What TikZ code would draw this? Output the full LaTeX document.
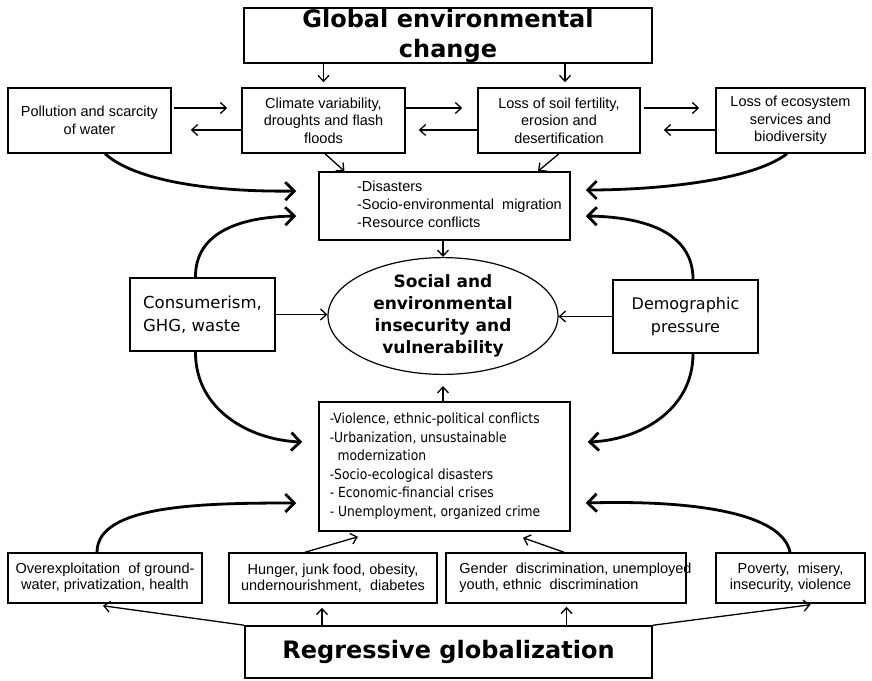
\documentclass[tikz,border=0pt]{standalone}
\usepackage{fontspec}
\setmainfont{Liberation Sans}
\newfontfamily\dv{DejaVu Sans}
\newfontfamily\dvc[FakeStretch=0.88]{DejaVu Sans}
\usetikzlibrary{arrows.meta,shapes.geometric}
\tikzset{
  box/.style={draw, line width=1.5pt, inner sep=0pt, align=center,
    font=\fontsize{14.5}{17.5}\selectfont},
  thinarr/.style={line width=1.3pt, -{Straight Barb[length=6pt,width=11pt]}},
  thickarr/.style={line width=2.8pt, -{Straight Barb[length=9pt,width=18pt]}},
  titlefont/.style={font=\dv\bfseries\fontsize{24}{30}\selectfont},
}
\begin{document}
\begin{tikzpicture}[x=1pt,y=-1pt]
\useasboundingbox (0,0) rectangle (872,680);
% top
\node[box, titlefont, minimum width=408pt, minimum height=55pt] (gec) at (448,35.5) {Global environmental\\change};
\node[box, minimum width=163pt, minimum height=65pt] (poll) at (89.5,120.5) {Pollution and scarcity\\of water};
\node[box, minimum width=163pt, minimum height=65pt] (clim) at (323.5,120.5) {Climate variability,\\droughts and flash\\floods};
\node[box, minimum width=162pt, minimum height=65pt] (soil) at (559,120.5) {Loss of soil fertility,\\erosion and\\desertification};
\node[box, minimum width=149pt, minimum height=65pt] (eco) at (790.5,120.5) {Loss of ecosystem\\services and\\biodiversity};
\node[box, minimum width=251pt, minimum height=68pt, font=\fontsize{14.5}{18}\selectfont] (dis) at (444.5,206)
  {\hspace*{30pt}\begin{tabular}{@{}l@{}}-Disasters\\-Socio-environmental\ \ migration\\-Resource conflicts\end{tabular}};
% middle
\node[draw, ellipse, line width=1.2pt, minimum width=230pt, minimum height=116pt, inner sep=0pt, align=center,
  font=\dv\bfseries\fontsize{17}{22}\selectfont] (ell) at (443,316) {Social and\\environmental\\insecurity and\\vulnerability};
\node[box, align=left, minimum width=145pt, minimum height=73pt, font=\dv\fontsize{16.5}{23}\selectfont] (cons) at (202.5,314.5) {Consumerism,\\GHG, waste};
\node[box, minimum width=145pt, minimum height=73pt, font=\dv\fontsize{16}{23}\selectfont] (demo) at (685.5,316.5) {Demographic\\pressure};
\node[box, minimum width=251pt, minimum height=129pt, font=\dvc\fontsize{14}{18.5}\selectfont] (viol) at (444.5,466.5)
  {\begin{tabular}{@{}l@{}}-Violence, ethnic-political conflicts\\-Urbanization, unsustainable\\\ \ modernization\\-Socio-ecological disasters\\- Economic-financial crises\\- Unemployment, organized crime\end{tabular}\hspace*{19pt}};
% bottom
\node[box, minimum width=194pt, minimum height=50pt, font=\fontsize{14.5}{16}\selectfont] (over) at (105,578) {Overexploitation\ \ of ground-\\water, privatization, health};
\node[box, minimum width=208pt, minimum height=50pt, font=\fontsize{14.5}{16}\selectfont] (hung) at (333,578) {Hunger, junk food, obesity,\\undernourishment,\ \ diabetes};
\node[box, minimum width=240pt, minimum height=50pt, font=\fontsize{14.5}{16}\selectfont] (gend) at (566,578)
  {\makebox[220pt]{\hspace*{19pt}\begin{tabular}{@{}l@{}}Gender\ \ discrimination, unemployed\\youth, ethnic\ \ discrimination\end{tabular}}};
\node[box, minimum width=149pt, minimum height=50pt, font=\fontsize{14.5}{16}\selectfont] (pov) at (790.5,578) {Poverty,\ \ misery,\\insecurity, violence};
\node[box, titlefont, minimum width=407pt, minimum height=52pt] (reg) at (448.5,652) {Regressive globalization};
% arrows top
\draw[thinarr] (gec.south -| clim.north) -- ([yshift=5pt]clim.north);
\draw[thinarr] ([xshift=6pt]soil.north |- gec.south) -- ([xshift=6pt,yshift=5pt]soil.north);
\draw[thinarr] ([xshift=2pt,yshift=12.5pt]poll.east) -- ([xshift=-14pt,yshift=12.5pt]clim.west);
\draw[thinarr] ([yshift=-9.5pt]clim.west) -- ([xshift=19pt,yshift=-9.5pt]poll.east);
\draw[thinarr] ([yshift=12.5pt]clim.east) -- ([xshift=-15pt,yshift=12.5pt]soil.west);
\draw[thinarr] ([yshift=-9.5pt]soil.west) -- ([xshift=13pt,yshift=-9.5pt]clim.east);
\draw[thinarr] ([xshift=3pt,yshift=12.5pt]soil.east) -- ([xshift=-16pt,yshift=12.5pt]eco.west);
\draw[thinarr] ([yshift=-9.5pt]eco.west) -- ([xshift=23pt,yshift=-9.5pt]soil.east);
\draw[thinarr] ([xshift=1.5pt]clim.south) -- ([xshift=-100pt]dis.north);
\draw[thinarr] (soil.south) -- ([xshift=93.5pt]dis.north);
% middle arrows
\draw[thinarr] ([xshift=-1.5pt]dis.south) -- (ell.north);
\draw[thinarr] (cons.east) -- (cons.east -| ell.west);
\draw[thinarr] (demo.west) -- (demo.west -| ell.east);
\draw[thinarr] ([xshift=-1.5pt]viol.north) -- ([yshift=-11pt]ell.south);
% thick curves
\draw[thickarr] ([xshift=15.5pt]poll.south) .. controls (140,185) and (230,192) .. ([xshift=-22pt,yshift=15pt]dis.west);
\draw[thickarr] ([xshift=-3.5pt]eco.south) .. controls (750,182) and (650,190) .. ([xshift=15pt,yshift=16pt]dis.east);
\draw[thickarr] ([xshift=-7pt]cons.north) .. controls (195,235) and (235,217) .. ([xshift=-22pt,yshift=-10pt]dis.west);
\draw[thickarr] ([xshift=-7pt]cons.south) .. controls (195,410) and (250,440) .. ([xshift=-16pt,yshift=24.5pt]viol.west);
\draw[thickarr] ([xshift=7.5pt]demo.north) .. controls (693,235) and (650,217) .. ([xshift=15pt,yshift=-10pt]dis.east);
\draw[thickarr] ([xshift=7.5pt]demo.south) .. controls (693,410) and (640,440) .. ([xshift=17pt,yshift=24.5pt]viol.east);
\draw[thickarr] ([xshift=-8pt]over.north) .. controls (97,505) and (200,503) .. ([xshift=-22pt,yshift=-36.5pt]viol.west);
\draw[thickarr] ([xshift=-0.5pt]pov.north) .. controls (782,512) and (690,500) .. ([xshift=15pt,yshift=-36.5pt]viol.east);
% bottom thin arrows
\draw[thinarr] ([xshift=-28pt]hung.north) -- ([xshift=-86.5pt,yshift=-5pt]viol.south);
\draw[thinarr] ([xshift=-2pt]gend.north) -- ([xshift=78.5pt,yshift=-6pt]viol.south);
\draw[thinarr] (reg.north west) -- ([xshift=-2pt,yshift=-2pt]over.south);
\draw[thinarr] ([xshift=-126.5pt]reg.north) -- ([xshift=-11pt,yshift=-4pt]hung.south);
\draw[thinarr] ([xshift=118pt]reg.north) -- ([xshift=0.5pt,yshift=-3pt]gend.south);
\draw[thinarr] (reg.north east) -- ([xshift=20pt,yshift=-1pt]pov.south);
\end{tikzpicture}
\end{document}
